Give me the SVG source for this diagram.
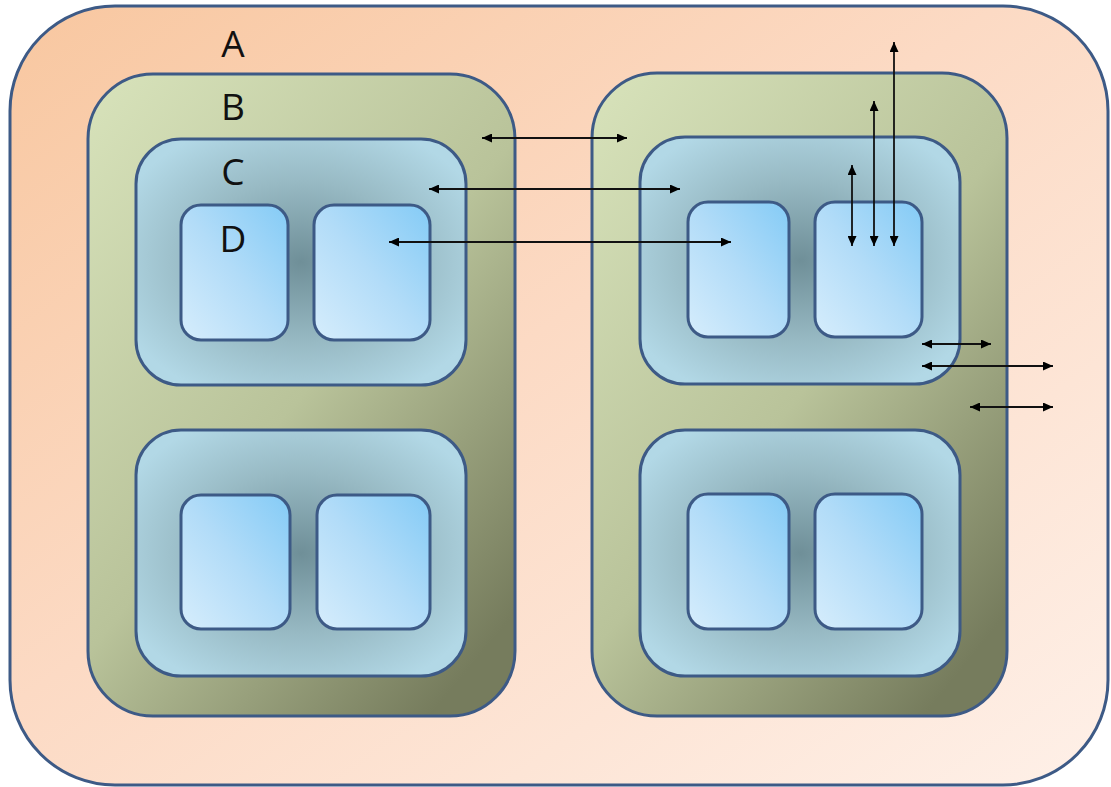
<svg xmlns="http://www.w3.org/2000/svg" width="1111" height="787" viewBox="0 0 1111 787">
<defs>
<linearGradient id="gA" x1="0" y1="0" x2="1" y2="1">
<stop offset="0" stop-color="#f8c7a0"/>
<stop offset="0.45" stop-color="#fcdac4"/>
<stop offset="1" stop-color="#fef0e8"/>
</linearGradient>
<linearGradient id="gB" x1="0" y1="0" x2="0.8" y2="1">
<stop offset="0" stop-color="#d8e3bb"/>
<stop offset="0.55" stop-color="#b9c39a"/>
<stop offset="1" stop-color="#767c5d"/>
</linearGradient>
<radialGradient id="gC" cx="0.5" cy="0.5" r="0.6">
<stop offset="0" stop-color="#6f8f98"/>
<stop offset="0.55" stop-color="#98bac4"/>
<stop offset="1" stop-color="#b2d8e6"/>
</radialGradient>
<linearGradient id="gD" x1="1" y1="0" x2="0" y2="1">
<stop offset="0" stop-color="#84cbf6"/>
<stop offset="0.5" stop-color="#b2dcf8"/>
<stop offset="1" stop-color="#d6edfc"/>
</linearGradient>
<marker id="ah" viewBox="0 0 10 9" refX="10" refY="4.5" markerWidth="10" markerHeight="9" orient="auto-start-reverse" markerUnits="userSpaceOnUse">
<path d="M0,0 L10,4.5 L0,9 z" fill="#000"/>
</marker>
</defs>
<style>
.a{fill:url(#gA);stroke:#3d5a86;stroke-width:3}
.b{fill:url(#gB);stroke:#3d5a86;stroke-width:3}
.c{fill:url(#gC);stroke:#3d5a86;stroke-width:3}
.d{fill:url(#gD);stroke:#3d5a86;stroke-width:3}
.lbl{font-family:"Open Sans","Liberation Sans",sans-serif;font-size:37px;fill:#111;text-anchor:middle}
.con line{stroke:#111;stroke-width:1.8;marker-start:url(#ah);marker-end:url(#ah)}
</style>
<g id="A"><rect class="a" x="10" y="6" width="1098" height="779" rx="105" ry="105"/><text class="lbl" x="233" y="57">A</text></g>
<g id="B1"><rect class="b" x="88" y="74" width="427" height="642" rx="65" ry="65"/><text class="lbl" x="233" y="120">B</text></g>
<g id="B2"><rect class="b" x="592" y="73" width="415" height="643" rx="65" ry="65"/></g>
<g id="C1"><rect class="c" x="136" y="139" width="330" height="246" rx="45" ry="45"/><text class="lbl" x="233" y="185">C</text></g>
<g id="C2"><rect class="c" x="136" y="430" width="330" height="246" rx="45" ry="45"/></g>
<g id="C3"><rect class="c" x="640" y="137" width="320" height="247" rx="45" ry="45"/></g>
<g id="C4"><rect class="c" x="640" y="430" width="320" height="246" rx="45" ry="45"/></g>
<g id="D1"><rect class="d" x="181" y="205" width="107" height="135" rx="20" ry="20"/><text class="lbl" x="233" y="252">D</text></g>
<g id="D2"><rect class="d" x="314" y="205" width="116" height="135" rx="20" ry="20"/></g>
<g id="D3"><rect class="d" x="181" y="495" width="109" height="134" rx="20" ry="20"/></g>
<g id="D4"><rect class="d" x="317" y="495" width="113" height="134" rx="20" ry="20"/></g>
<g id="D5"><rect class="d" x="688" y="202" width="101" height="135" rx="20" ry="20"/></g>
<g id="D6"><rect class="d" x="815" y="202" width="107" height="135" rx="20" ry="20"/></g>
<g id="D7"><rect class="d" x="688" y="494" width="101" height="135" rx="20" ry="20"/></g>
<g id="D8"><rect class="d" x="815" y="494" width="107" height="135" rx="20" ry="20"/></g>
<g id="connectors" class="con">
<line x1="482" y1="138" x2="627" y2="138"/>
<line x1="429" y1="189" x2="680" y2="189"/>
<line x1="389" y1="242" x2="731" y2="242"/>
<line x1="852" y1="165" x2="852" y2="246"/>
<line x1="874" y1="101" x2="874" y2="246"/>
<line x1="894" y1="42" x2="894" y2="246"/>
<line x1="922" y1="344" x2="991" y2="344"/>
<line x1="922" y1="366" x2="1053" y2="366"/>
<line x1="970" y1="407" x2="1053" y2="407"/>
</g>
</svg>
